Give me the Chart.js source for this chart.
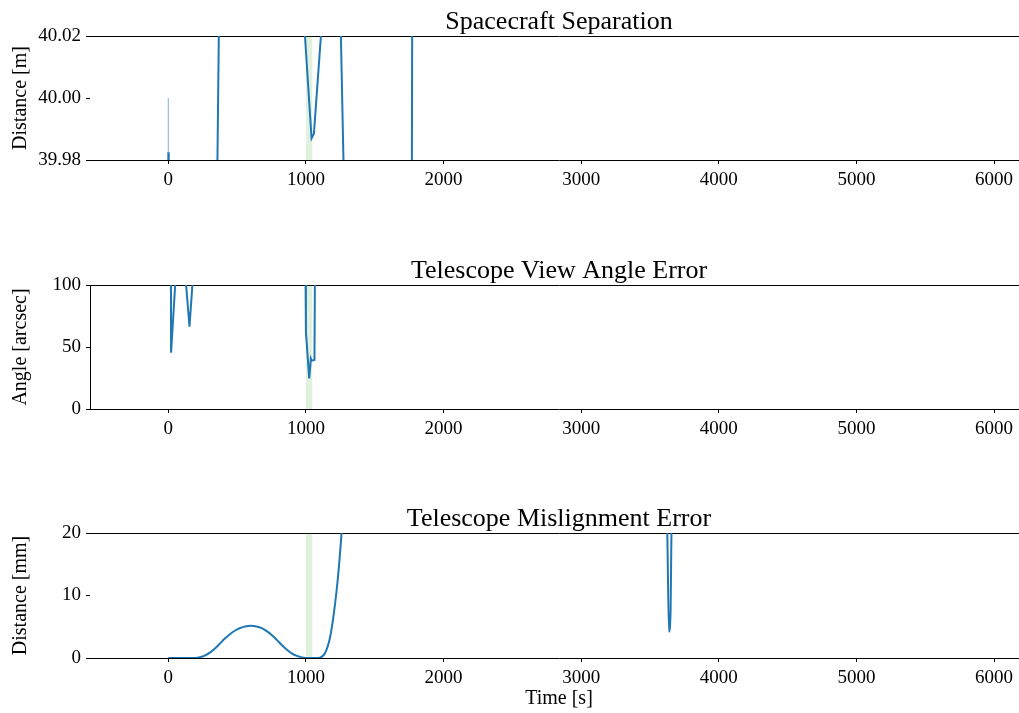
<!DOCTYPE html>
<html>
<head>
<meta charset="utf-8">
<script src="https://cdn.jsdelivr.net/npm/chart.js@4/dist/chart.umd.min.js"></script>
<style>
  body { margin: 0; background: #fff; overflow: hidden; }
  #wrap { position: relative; width: 1019px; height: 713px; overflow: hidden; }
  canvas { position: absolute; left: 0; }
</style>
</head>
<body>
<div id="wrap">
  <canvas id="sep" width="1118" height="188" style="top:8px"></canvas>
  <canvas id="ang" width="1118" height="188" style="top:257px"></canvas>
  <canvas id="mis" width="1118" height="208" style="top:505px"></canvas>
</div>
<script>
// time axis shared by all three panels
const timeRange = [-569, 6247];
const timeTicks = [0, 1000, 2000, 3000, 4000, 5000, 6000];
const shadeSpan = [1000, 1048];

// spacecraft separation [m]
const sepTime = [0, 3, 337, 387, 960, 993, 1041, 1058, 1109, 1140, 1245, 1282, 1300, 1760, 1768, 1774, 1800, 5900];
const sepDist = [39.9825, 39.90, 39.90, 40.10, 40.06, 40.02, 39.987, 39.9885, 40.02, 40.06, 40.04, 39.96, 39.94, 39.94, 39.94, 40.06, 40.10, 40.10];
const sepStartTime = [0, 0];
const sepStartDist = [40.00, 39.9825];
const sepTicks = [39.98, 40.00, 40.02];

// telescope view angle error [arcsec]
const angTime = [0, 19, 20, 50, 60, 122, 154, 180, 995, 1000, 1024, 1036, 1041, 1062, 1066, 1100, 5900];
const angErr = [180, 130, 45.4, 100, 115, 110, 66.4, 108, 140, 62, 24.7, 40.5, 39, 39.5, 120, 180, 180];
const angTicks = [0, 50, 100];

// telescope misalignment error [mm]
const misTime = [0, 150, 196, 230, 268, 305, 341, 377, 413, 450, 486, 522, 558, 600, 640, 679, 715, 751, 788, 824, 860, 896, 930, 957, 985, 1000, 1060, 1101, 1138, 1174, 1198, 1222, 1241, 1258, 1280, 1320, 3600, 3626, 3638, 3650, 3656, 3670, 5900];
const misErr = [0, 0, 0, 0.12, 0.42, 0.9, 1.55, 2.35, 3.15, 3.85, 4.4, 4.8, 5.05, 5.15, 5.05, 4.78, 4.3, 3.68, 2.9, 2.08, 1.35, 0.75, 0.38, 0.18, 0.04, 0, 0, 0.05, 0.75, 3.15, 6.35, 10.6, 14.9, 19.7, 26, 40, 40, 20, 4.2, 7.7, 20, 40, 40];
const misTicks = [0, 10, 20];

Chart.defaults.font.family = "'Liberation Serif', 'Times New Roman', serif";
Chart.defaults.color = "#000";

const BLUE = "#1f77b4";

function pts(xs, ys) {
  return xs.map((x, i) => ({ x: x, y: ys[i] }));
}

function makePanel(id, cfg) {
  const ctx = document.getElementById(id);
  const datasets = [
    {
      data: pts(cfg.times, cfg.values),
      borderColor: BLUE,
      borderWidth: 2,
      pointRadius: 0,
      tension: 0,
      cubicInterpolationMode: cfg.smooth ? "monotone" : "default",
      fill: false,
      order: 1,
    },
    {
      data: pts(shadeSpan, [cfg.yMax, cfg.yMax]),
      borderColor: "transparent",
      borderWidth: 0,
      backgroundColor: "rgba(44, 160, 44, 0.15)",
      pointRadius: 0,
      fill: "start",
      order: 3,
    },
  ].concat(cfg.extra || []);

  return new Chart(ctx, {
    type: "line",
    data: { datasets: datasets },
    options: {
      responsive: false,
      animation: false,
      events: [],
      layout: { padding: 0 },
      plugins: {
        legend: { display: false },
        tooltip: { enabled: false },
        title: {
          display: true,
          text: cfg.title,
          color: "#000",
          font: { size: 26, weight: "normal", lineHeight: 1.05 },
          padding: { top: 0.7, bottom: 0 },
        },
      },
      scales: {
        x: {
          type: "linear",
          position: "bottom",
          min: timeRange[0],
          max: timeRange[1],
          afterBuildTicks: (s) => { s.ticks = timeTicks.map((v) => ({ value: v })); },
          afterFit: (s) => { s.height = cfg.xHeight; },
          ticks: { font: { size: 19 }, padding: 5, maxRotation: 0, autoSkip: false, callback: (v) => String(v) },
          grid: { display: true, drawOnChartArea: false, drawTicks: true, tickLength: 4, color: "#000", tickColor: "#000" },
          border: { display: true, color: "#000", width: 1 },
          title: {
            display: !!cfg.xLabel,
            text: cfg.xLabel || "",
            font: { size: 20 },
            padding: { top: 0, bottom: 2 },
          },
        },
        xTop: {
          type: "linear",
          position: "top",
          min: timeRange[0],
          max: timeRange[1],
          afterFit: (s) => { s.height = 0; },
          ticks: { display: false },
          grid: { display: false },
          border: { display: true, color: "#000", width: 1 },
        },
        y: {
          type: "linear",
          min: cfg.yMin,
          max: cfg.yMax,
          afterBuildTicks: (s) => { s.ticks = cfg.yTicks.map((v) => ({ value: v })); },
          afterFit: (s) => { s.width = 90; },
          ticks: {
            font: { size: 19 },
            padding: 5,
            callback: (v) => cfg.fmt(v),
          },
          grid: { display: true, drawOnChartArea: false, drawTicks: true, tickLength: 4, color: "#000", tickColor: "#000" },
          border: { display: !!cfg.leftSpine, color: "#000", width: 1 },
          title: {
            display: true,
            text: cfg.yLabel,
            font: { size: 20 },
            padding: { top: 9, bottom: 0 },
          },
        },
        // empty right-hand gutter so the title centres over the plot area
        yGutter: {
          type: "linear",
          position: "right",
          min: cfg.yMin,
          max: cfg.yMax,
          afterFit: (s) => { s.width = 90; },
          ticks: { display: false },
          grid: { display: false },
          border: { display: false },
        },
      },
    },
  });
}

makePanel("sep", {
  title: "Spacecraft Separation",
  yLabel: "Distance [m]",
  times: sepTime,
  values: sepDist,
  yMin: 39.98,
  yMax: 40.02,
  yTicks: sepTicks,
  fmt: (v) => v.toFixed(2),
  xHeight: 36,
  extra: [{
    data: pts(sepStartTime, sepStartDist),
    borderColor: "rgba(31, 119, 180, 0.22)",
    borderWidth: 1,
    pointRadius: 0,
    fill: false,
    order: 2,
  }],
});

makePanel("ang", {
  title: "Telescope View Angle Error",
  yLabel: "Angle [arcsec]",
  times: angTime,
  values: angErr,
  yMin: 0,
  yMax: 100,
  yTicks: angTicks,
  fmt: (v) => String(v),
  xHeight: 36,
  leftSpine: true,
});

makePanel("mis", {
  title: "Telescope Mislignment Error",
  yLabel: "Distance [mm]",
  xLabel: "Time [s]",
  times: misTime,
  values: misErr,
  yMin: 0,
  yMax: 20,
  yTicks: misTicks,
  fmt: (v) => String(v),
  xHeight: 55,
  smooth: true,
});
</script>
</body>
</html>
